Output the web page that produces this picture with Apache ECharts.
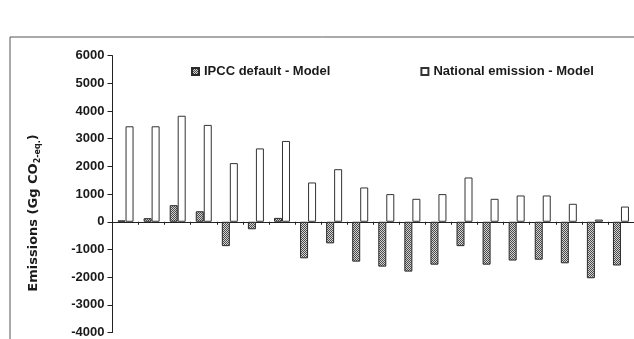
<!DOCTYPE html>
<html>
<head>
<meta charset="utf-8">
<script src="https://cdn.jsdelivr.net/npm/echarts@6/dist/echarts.min.js"></script>
<style>
html,body{margin:0;padding:0;background:#fff;}
#chart{width:634px;height:339px;}
</style>
</head>
<body>
<div id="chart"></div>
<script>
// ---- data ----
var categories = ['1','2','3','4','5','6','7','8','9','10','11','12','13','14','15','16','17','18','19','20'];
var ipccDefault = [50, 130, 600, 380, -880, -270, 140, -1320, -780, -1440, -1620, -1800, -1550, -880, -1550, -1400, -1370, -1500, -2040, -1580];
var nationalEmission = [3450, 3450, 3830, 3500, 2120, 2650, 2920, 1420, 1900, 1240, 1000, 830, 1000, 1600, 830, 950, 950, 650, 80, 550];
var seriesNames = ['IPCC default - Model', 'National emission - Model'];
var yMin = -4000, yMax = 6000, yStep = 1000;

// dotted/checker texture for the IPCC bars
var pc = document.createElement('canvas');
pc.width = 2; pc.height = 2;
var pctx = pc.getContext('2d');
pctx.fillStyle = '#d4d4d4';
pctx.fillRect(0, 0, 2, 2);
pctx.fillStyle = '#4a4a4a';
pctx.fillRect(0, 0, 1, 1);
pctx.fillRect(1, 1, 1, 1);
var hatch = { image: pc, repeat: 'repeat' };

var chart = echarts.init(document.getElementById('chart'), null, {renderer: 'canvas'});
var txt = '#1a1a1a';
chart.setOption({
  animation: false,
  backgroundColor: '#fff',
  graphic: [
    { type: 'rect', shape: { x: 10, y: 37, width: 700, height: 400 },
      style: { fill: null, stroke: '#555', lineWidth: 1 }, silent: true, z: 0 },
    { type: 'text', x: 34, y: 213, rotation: Math.PI / 2,
      style: {
        text: 'Emissions (Gg CO{sub|2-eq.})',
        font: 'bold 13px "DejaVu Sans"',
        fill: txt, align: 'center', verticalAlign: 'middle',
        rich: { sub: { fontSize: 8, fontWeight: 'bold', fontFamily: 'DejaVu Sans', padding: [7, 0, 0, 0], fill: txt } }
      }, z: 10 }
  ],
  legend: {
    left: 186, top: 60,
    itemWidth: 7, itemHeight: 7, itemGap: 90,
    icon: 'rect',
    textStyle: { fontFamily: 'Liberation Sans', fontWeight: 'bold', fontSize: 13, color: txt },
    data: seriesNames
  },
  grid: { left: 112.5, right: -10.5, top: 55.7, bottom: 5.6, containLabel: false },
  xAxis: {
    type: 'category', data: categories,
    axisLine: { onZero: true, lineStyle: { color: '#222', width: 1 } },
    axisTick: { show: true, length: 3, lineStyle: { color: '#222' } },
    axisLabel: { show: false },
    splitLine: { show: false }
  },
  yAxis: {
    type: 'value', min: yMin, max: yMax, interval: yStep,
    axisLine: { show: true, lineStyle: { color: '#222', width: 1 } },
    axisTick: { show: true, length: 5, lineStyle: { color: '#222' } },
    axisLabel: { margin: 8, fontFamily: 'Liberation Sans', fontWeight: 'bold', fontSize: 13, color: txt,
      formatter: function (v) { return String(v); } },
    splitLine: { show: false }
  },
  series: [
    { name: seriesNames[0], type: 'bar', data: ipccDefault, barWidth: 8, barGap: '0%',
      itemStyle: { color: hatch, borderColor: '#2a2a2a', borderWidth: 1 } },
    { name: seriesNames[1], type: 'bar', data: nationalEmission, barWidth: 8, barGap: '0%',
      itemStyle: { color: '#fff', borderColor: '#333', borderWidth: 1 } }
  ]
});
</script>
</body>
</html>
